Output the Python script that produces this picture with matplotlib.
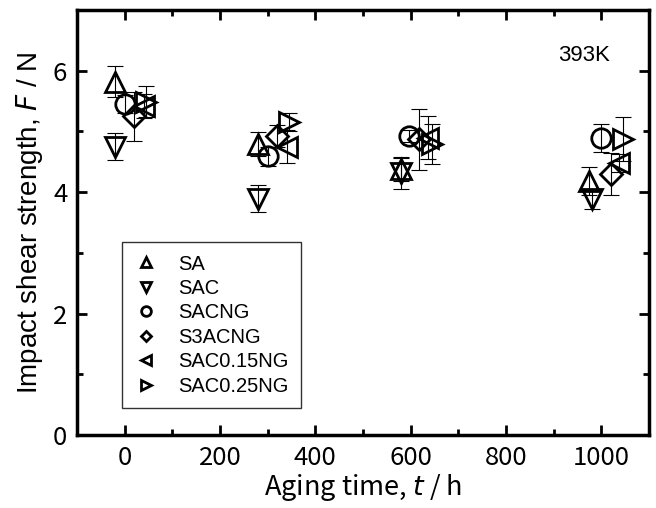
import matplotlib.pyplot as plt
from matplotlib.ticker import MultipleLocator

# data
series = ["SA", "SAC", "SACNG", "S3ACNG", "SAC0.15NG", "SAC0.25NG"]
markers = ["^", "v", "o", "D", "<", ">"]

sa_t = [-20, 280, 580, 975]
sa_f = [5.82, 4.79, 4.38, 4.18]
sa_e = [0.25, 0.20, 0.20, 0.23]

sac_t = [-20, 280, 580, 980]
sac_f = [4.75, 3.89, 4.31, 3.89]
sac_e = [0.22, 0.22, 0.25, 0.17]

sacng_t = [0, 300, 597, 1000]
sacng_f = [5.45, 4.59, 4.92, 4.89]
sacng_e = [0.15, 0.16, 0.10, 0.23]

s3acng_t = [20, 320, 617, 1020]
s3acng_f = [5.25, 4.92, 4.87, 4.30]
s3acng_e = [0.40, 0.18, 0.50, 0.35]

sac015_t = [40, 340, 637, 1037]
sac015_f = [5.42, 4.75, 4.90, 4.48]
sac015_e = [0.20, 0.27, 0.35, 0.15]

sac025_t = [45, 345, 645, 1045]
sac025_f = [5.49, 5.16, 4.79, 4.87]
sac025_e = [0.26, 0.15, 0.33, 0.36]

times = [sa_t, sac_t, sacng_t, s3acng_t, sac015_t, sac025_t]
forces = [sa_f, sac_f, sacng_f, s3acng_f, sac015_f, sac025_f]
errors = [sa_e, sac_e, sacng_e, s3acng_e, sac015_e, sac025_e]

jp = ["Noto Sans CJK JP", "DejaVu Sans"]
sans = ["Liberation Sans", "DejaVu Sans"]

fig = plt.figure(figsize=(6.56, 5.08), dpi=100)
ax = fig.add_axes([0.1174, 0.1437, 0.872, 0.8366])

for name, m, t, f, e in zip(series, markers, times, forces, errors):
    ax.errorbar(t, f, yerr=e, fmt="none", ecolor="black", elinewidth=0.8,
                capsize=6, capthick=0.8, zorder=2)
    ms = 11 if m == "D" else 14
    ax.plot(t, f, linestyle="none", marker=m, markersize=ms,
            markerfacecolor="none", markeredgecolor="black",
            markeredgewidth=2, label=name, zorder=3)

ax.set_xlim(-100, 1100)
ax.set_ylim(0, 7)
ax.xaxis.set_major_locator(MultipleLocator(200))
ax.xaxis.set_minor_locator(MultipleLocator(100))
ax.yaxis.set_major_locator(MultipleLocator(2))
ax.yaxis.set_minor_locator(MultipleLocator(1))
ax.tick_params(which="both", direction="in", top=True, right=True, width=2)
ax.tick_params(which="major", length=7, labelsize=18.5, pad=7)
ax.tick_params(which="minor", length=4)
for lab in ax.get_xticklabels() + ax.get_yticklabels():
    lab.set_family(jp)
for sp in ax.spines.values():
    sp.set_linewidth(2.5)

ax.set_xlabel("Aging time, $\\it{t}$ / h", fontsize=19.5, family=jp, labelpad=1)
ax.set_ylabel("Impact shear strength, $\\it{F}$ / N", fontsize=20, family=sans,
              labelpad=6)

ax.text(0.932, 0.894, "393K", transform=ax.transAxes, ha="right", va="center",
        fontsize=16, family=sans)

leg = ax.legend(loc="lower left", bbox_to_anchor=(0.079, 0.064), borderaxespad=0,
                markerscale=0.5, frameon=True, fancybox=False, edgecolor="black",
                prop={"family": sans, "size": 14.5}, handletextpad=1.0,
                labelspacing=0.27, borderpad=0.6, handlelength=1.2)
leg.get_frame().set_linewidth(1)

fig.savefig("out.png", dpi=100)
